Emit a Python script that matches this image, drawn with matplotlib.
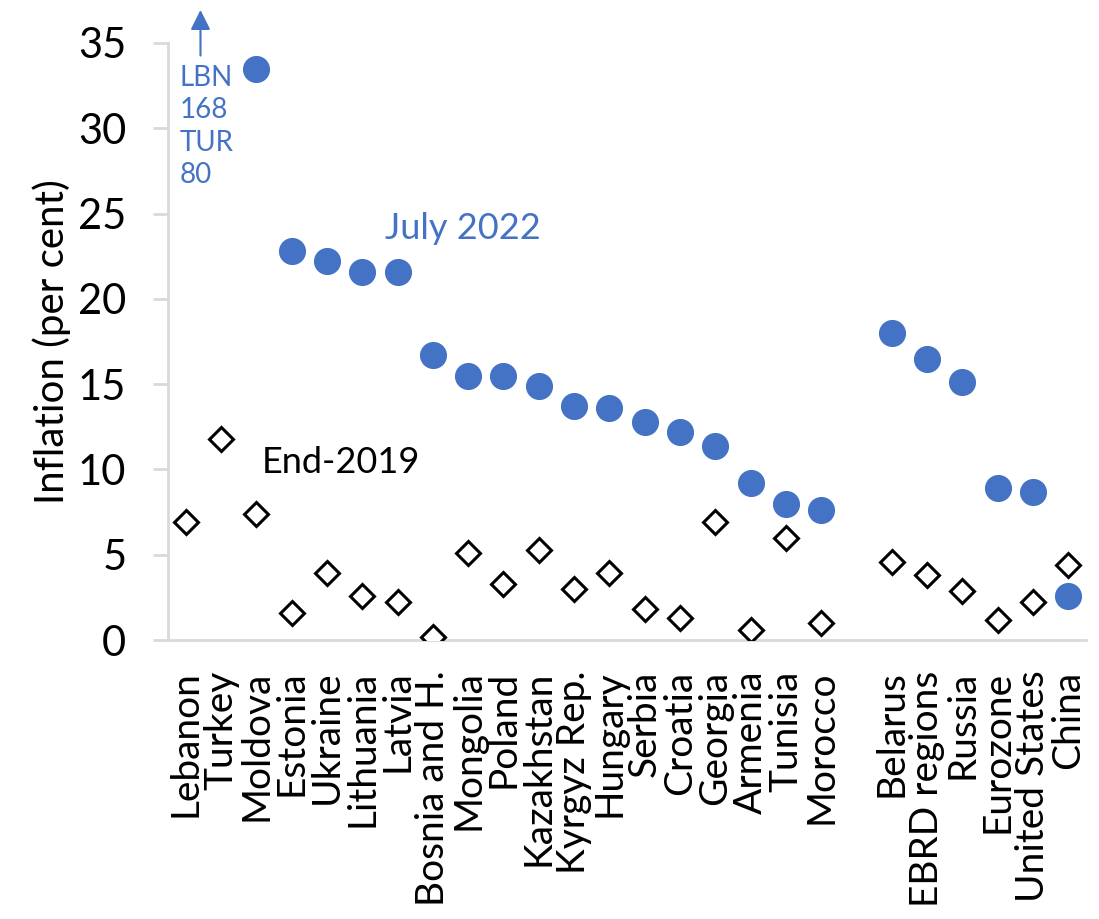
import numpy as np
import matplotlib
matplotlib.use("Agg")
import matplotlib.pyplot as plt

plt.rcParams['font.family'] = ['Lato', 'DejaVu Sans']

countries = ['Lebanon', 'Turkey', 'Moldova', 'Estonia', 'Ukraine', 'Lithuania', 'Latvia',
             'Bosnia and H.', 'Mongolia', 'Poland', 'Kazakhstan', 'Kyrgyz Rep.', 'Hungary',
             'Serbia', 'Croatia', 'Georgia', 'Armenia', 'Tunisia', 'Morocco', '',
             'Belarus', 'EBRD regions', 'Russia', 'Eurozone', 'United States', 'China']

# July 2022 (Lebanon and Turkey off the scale, shown as text)
july2022 = [np.nan, np.nan, 33.5, 22.8, 22.2, 21.6, 21.6,
            16.7, 15.5, 15.5, 14.9, 13.7, 13.6,
            12.8, 12.2, 11.4, 9.2, 8.0, 7.6, np.nan,
            18.0, 16.5, 15.1, 8.9, 8.7, 2.6]

end2019 = [6.9, 11.8, 7.4, 1.6, 3.9, 2.6, 2.2,
           0.2, 5.1, 3.3, 5.3, 3.0, 3.9,
           1.8, 1.3, 6.9, 0.6, 6.0, 1.0, np.nan,
           4.6, 3.8, 2.9, 1.2, 2.2, 4.4]

blue = '#4472C4'
grey = '#D9D9D9'

fig = plt.figure(figsize=(10.99, 9.19), dpi=100)
ax = fig.add_axes([168/1099, 1 - 640/919, (1086-168)/1099, (640-43)/919])

x = np.arange(len(countries))
ax.plot(x, end2019, 'D', ms=12.5, mfc='white', mec='black', mew=2.2, ls='none', zorder=3)
ax.plot(x, july2022, 'o', ms=18.5, color=blue, ls='none', zorder=4)

ax.set_xlim(-0.5, len(countries) - 0.5)
ax.set_ylim(0, 35)
ax.set_yticks(range(0, 36, 5))
ax.set_xticks(x)
ax.set_xticklabels(countries, rotation=90, fontsize=28)
ax.tick_params(axis='x', length=0, pad=22)
ax.tick_params(axis='y', labelsize=30, length=11, width=2, color=grey, pad=19)
ax.set_ylabel('Inflation (per cent)', fontsize=29, labelpad=5)

for s in ['top', 'right']:
    ax.spines[s].set_visible(False)
for s in ['left', 'bottom']:
    ax.spines[s].set_color(grey)
    ax.spines[s].set_linewidth(2)

ax.text(7.85, 24.15, 'July 2022', color=blue, fontsize=26, ha='center', va='center')
ax.text(4.4, 10.4, 'End-2019', color='black', fontsize=26, ha='center', va='center')

ax.annotate('', xy=(0.42, 37.1), xytext=(0.42, 34.1), xycoords='data',
            arrowprops=dict(arrowstyle='-|>', color=blue, lw=1.5, mutation_scale=30),
            annotation_clip=False)
ax.text(-0.17, 33.7, 'LBN\n168\nTUR\n80', color=blue, fontsize=20, ha='left', va='top',
        linespacing=1.3)

fig.savefig('out.png', dpi=100)
